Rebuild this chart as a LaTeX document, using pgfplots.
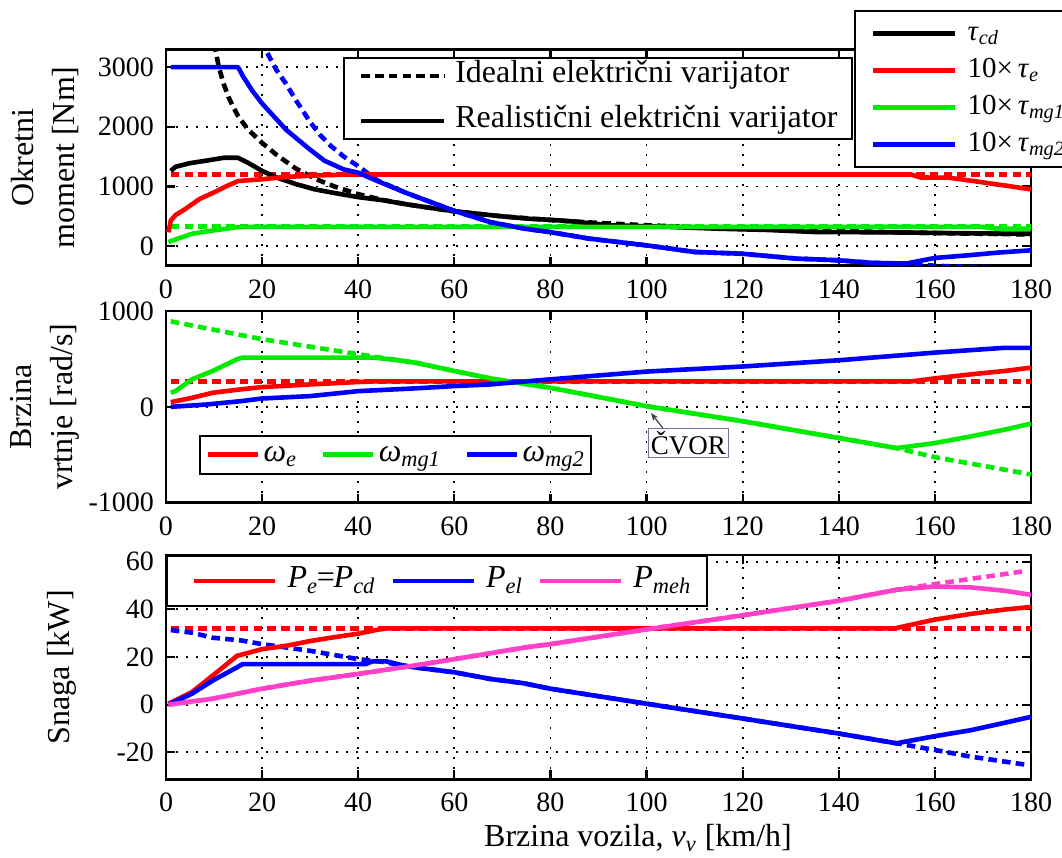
\documentclass[border=0pt]{standalone}
\usepackage{fontspec}
\setmainfont{Liberation Serif}
\usepackage{pgfplots}
\pgfplotsset{compat=1.18}
\usetikzlibrary{arrows.meta}

\definecolor{cred}{RGB}{255,0,0}
\definecolor{cgreen}{RGB}{0,235,0}
\definecolor{cblue}{RGB}{0,0,255}
\definecolor{cpink}{RGB}{255,64,200}
\definecolor{cbox}{RGB}{110,120,150}

\newcommand\lfont{\fontsize{16}{16}\selectfont}
\newcommand\tfont{\fontsize{14}{14}\selectfont}
\newcommand\ssub[1]{\textsubscript{\textit{#1}}}
\tikzset{dsh/.style={dash pattern=on 4.3pt off 2.6pt}}

\pgfplotsset{
  panel/.style={
    scale only axis, width=432.5pt, anchor=south west,
    xmin=0, xmax=180, xtick={0,20,...,180},
    grid=major,
    major grid style={black, line width=0.9pt, dash pattern=on 0.9pt off 4.1pt},
    axis line style={black, line width=1.4pt},
    every tick/.style={black, line width=1.1pt},
    major tick length=4.5pt, tick align=inside,
    tick label style={font=\tfont},
    xticklabel style={yshift=-3.5pt},
    yticklabel style={xshift=-2.5pt},
    /pgf/number format/assume math mode=true,
    /pgf/number format/1000 sep={},
    scaled ticks=false,
    label style={font=\lfont},
    every axis plot/.append style={line width=2.3pt, line join=round},
  },
  lgd/.style={draw=black, line width=1pt, fill=white, font=\lfont,
    nodes={inner sep=0pt, text height=11pt, text depth=4pt},
    cells={anchor=west}},
}

\begin{document}
\begin{tikzpicture}
\useasboundingbox (0,0) rectangle (531pt,429pt);

% ---------- torque ----------
\begin{axis}[panel, at={(83pt,296.15pt)}, height=108.2pt,
  ymin=-330, ymax=3300, ytick={0,1000,2000,3000},
  ylabel={Okretni\\moment [Nm]},
  ylabel style={align=center, font=\fontsize{16}{20.5}\selectfont,
    at={(axis description cs:-0.14,0.5)}, anchor=center},
  legend style={lgd, font=\fontsize{14.5}{14.5}\selectfont,
    at={(axis description cs:0.7954,1.1816)}, anchor=north west,
    inner xsep=8pt, inner ysep=3.7pt, row sep=3.5pt},
  legend image code/.code={\draw[line width=2.3pt,#1] (0pt,0pt) -- (41pt,0pt); \path (46pt,0pt);},
]
\addplot[black, dsh, forget plot] coordinates {
 (10,3400) (11,3000) (12,2720) (13,2500) (14,2330) (15,2180) (17,1960) (20,1730)
 (23,1530) (27,1300) (31,1130) (35,1000) (40,870) (45,775) (50,700) (60,580)
 (70,497) (80,435) (90,387) (100,348) (110,316) (120,290) (140,249) (160,218) (180,193)};
\addplot[cred, dsh, forget plot] coordinates {(1,1200) (180,1200)};
\addplot[cgreen, dsh, forget plot] coordinates {(1,325) (180,325)};
\addplot[cblue, dsh, forget plot] coordinates {
 (20,3450) (21,3250) (23,2950) (25,2720) (27,2450) (30,2080) (32,1870) (34.3,1680)
 (37,1500) (40,1340) (44,1100) (50,890) (55,740) (60,590) (67.5,400) (74.7,290)
 (80,233) (88,125) (100,11) (110,-100) (120,-130) (131,-210) (140,-240) (147,-283)
 (154,-300) (160,-330) (166,-350) (180,-400)};

\addplot[black] coordinates {
 (1,1260) (2,1330) (5,1390) (9,1440) (12,1480) (15,1480) (17,1400) (20,1260)
 (23,1150) (27,1040) (31,950) (35,890) (40,820) (45,770) (50,700) (55,640)
 (60,585) (65,540) (70,497) (76,455) (80,440) (85,410) (92,350) (100,330)
 (105,320) (115,290) (125,270) (135,235) (150,230) (165,215) (180,205)};
\addlegendentry{\textit{τ}\ssub{cd}}
\addplot[cred] coordinates {
 (0.5,230) (1,430) (2,520) (4,620) (7,790) (10,900) (12.6,1005) (15,1090) (20,1120)
 (25,1160) (32,1185) (38,1200) (155,1200) (157,1150) (163,1145) (168,1090)
 (175,1010) (180,950)};
\addlegendentry{10×\,\textit{τ}\ssub{e}}
\addplot[cgreen] coordinates {
 (0.5,66) (2.5,125) (5.4,205) (9.7,260) (14.8,315) (16,320) (170,320) (172,295) (180,290)};
\addlegendentry{10×\,\textit{τ}\ssub{mg1}}
\addplot[cblue] coordinates {
 (1,3000) (15,3000) (16,2850) (18,2600) (20,2390) (25,1950) (30,1615) (33,1430)
 (37,1285) (40,1230) (44,1090) (50,890) (55,740) (60,590) (67.5,400) (74.7,290)
 (80,233) (88,125) (100,11) (110,-100) (120,-130) (131,-210) (140,-240) (147,-283)
 (154,-294) (160,-200) (167,-155) (173,-111) (180,-72)};
\addlegendentry{10×\,\textit{τ}\ssub{mg2}}
\end{axis}

\begin{axis}[at={(83pt,296.15pt)}, anchor=south west, scale only axis,
  width=432.5pt, height=108.2pt, hide axis, xmin=0, xmax=1, ymin=0, ymax=1,
  legend style={lgd, at={(axis description cs:0.2046,0.9644)}, anchor=north west,
    inner xsep=7.5pt, inner ysep=1.5pt, row sep=7.5pt},
  legend image code/.code={\draw[line width=2.3pt,#1] (0pt,0pt) -- (41.5pt,0pt); \path (46.5pt,0pt);},
]
\addlegendimage{black, dsh}
\addlegendentry{Idealni električni varijator}
\addlegendimage{black}
\addlegendentry{Realistični električni varijator}
\end{axis}

% ---------- speed ----------
\begin{axis}[panel, at={(83pt,177.65pt)}, height=95.85pt,
  ymin=-1000, ymax=1000, ytick={-1000,0,1000},
  ylabel={Brzina\\vrtnje [rad/s]},
  ylabel style={align=center, font=\fontsize{16}{20.5}\selectfont,
    at={(axis description cs:-0.14,0.5)}, anchor=center},
  legend columns=3,
  legend style={lgd, at={(axis description cs:0.0382,0.3552)}, anchor=north west,
    inner xsep=3pt, inner ysep=2pt,
    /tikz/every even column/.append style={column sep=12pt}},
  legend image code/.code={\draw[line width=2.3pt,#1] (0pt,0pt) -- (25pt,0pt); \path (26.5pt,0pt);},
]
\addplot[cgreen, dsh, forget plot] coordinates {
 (1,892) (20,706) (40,549) (47,495) (52,460) (60,374) (67.5,297) (73,252) (80,199)
 (100,7) (120,-150) (140,-325) (152,-430) (160,-525) (170,-615) (180,-705)};
\addplot[cred, dsh, forget plot] coordinates {(1,265) (180,265)};

\addplot[cred] coordinates {
 (1,49) (5.4,94) (9.7,147) (15.5,182) (20,206) (30,234) (40,259) (43,265)
 (155,265) (160,297) (167.5,339) (174.5,374) (180,409)};
\addlegendentry{\textit{ω}\ssub{e}}
\addplot[cgreen] coordinates {
 (1,147) (2,165) (5.4,287) (9.7,374) (14.8,497) (16,514) (43,514) (47,495) (52,460)
 (60,374) (67.5,297) (73,252) (80,199) (100,7) (120,-150) (140,-325) (152,-430)
 (160,-378) (167.5,-308) (174.5,-238) (180,-175)};
\addlegendentry{\textit{ω}\ssub{mg1}}
\addplot[cblue] coordinates {
 (1,0) (8.3,24) (15.5,59) (20,87) (30,112) (40,164) (51.6,192) (60,217) (67.5,234)
 (73.3,259) (80,287) (100,368) (120,421) (140,486) (160,566) (174.5,616) (180,616)};
\addlegendentry{\textit{ω}\ssub{mg2}}

\node[draw=cbox, line width=0.6pt, inner xsep=1.2pt, inner ysep=1.5pt,
  font=\fontsize{13.5}{13.5}\selectfont] at (axis cs:108.7,-377) {ČVOR};
\draw[black!75, line width=0.6pt, -{Stealth[length=4pt,width=3pt]}]
  (axis cs:103.4,-221) -- (axis cs:100.9,-64);
\end{axis}

% ---------- power ----------
\begin{axis}[panel, at={(83pt,39.35pt)}, height=112.15pt,
  ymin=-31.3, ymax=62.8, ytick={-20,0,20,40,60},
  ylabel={Snaga [kW]},
  ylabel style={at={(axis description cs:-0.12,0.5)}, anchor=center},
  xlabel={Brzina vozila, \textit{v}\ssub{v} [km/h]},
  xlabel style={at={(axis description cs:0.5457,-0.262)}, anchor=center},
  legend columns=3,
  legend style={lgd, at={(axis description cs:0,1)}, anchor=north west,
    inner xsep=8pt, inner ysep=5pt,
    /tikz/every even column/.append style={column sep=3pt}},
  legend image code/.code={\path (-4.5pt,0pt); \draw[line width=2.3pt,#1] (0pt,0pt) -- (40.5pt,0pt); \path (45.5pt,0pt);},
]
\addplot[cred, dsh, forget plot] coordinates {(1,32) (180,32)};
\addplot[cblue, dsh, forget plot] coordinates {
 (1,31.3) (5.4,30.2) (9.7,28.1) (15.5,27) (20,25.4) (30,22.6) (40,19.1) (44.4,18.2)
 (49.5,16.4) (51.6,15.7) (60,13.6) (67.5,10.8) (74.4,9) (80,6.7) (100,0.4)
 (120,-5.8) (140,-12.1) (152,-16.2) (160,-19) (167.5,-21.8) (179,-25.2)};
\addplot[cpink, dsh, forget plot] coordinates {
 (0.5,0) (9.7,2.5) (20,6.7) (30,10.1) (40,12.9) (51.6,16.4) (60,19.1) (74.7,24)
 (80,25.4) (100,31.6) (120,37.5) (140,43.6) (152,48.2) (160,50.6) (167.5,52.8) (179,56.1)};

\addplot[cred] coordinates {
 (0.5,0.4) (5.4,5.3) (9.7,12.2) (14.8,20.5) (20,23.3) (25,24.7) (30,26.7) (34.3,28.1)
 (40,29.8) (44.4,31.6) (46,32) (151.6,32) (160,35.7) (167.5,38.1) (174.5,39.9) (180,41)};
\addlegendentry{\textit{P}\ssub{e}\kern-0.6pt=\kern-0.6pt\textit{P}\ssub{cd}}
\addplot[cblue] coordinates {
 (0.5,0) (5.4,4.6) (9.7,10.1) (14.8,15.7) (15.9,17) (41.5,17) (43,18.2) (45.8,18.2)
 (49.5,16.4) (51.6,15.7) (60,13.6) (67.5,10.8) (74.4,9) (80,6.7) (100,0.4) (120,-5.8)
 (140,-12.1) (152,-16.2) (160,-13.2) (167.5,-10.7) (174.5,-7.6) (180,-5.1)};
\addlegendentry{\textit{P}\ssub{el}}
\addplot[cpink] coordinates {
 (0.5,0) (9.7,2.5) (20,6.7) (30,10.1) (40,12.9) (51.6,16.4) (60,19.1) (74.7,24)
 (80,25.4) (100,31.6) (120,37.5) (140,43.6) (152,48.2) (160,49.6) (167.5,49.2)
 (174.5,47.8) (180,46.1)};
\addlegendentry{\textit{P}\ssub{meh}}
\end{axis}
\end{tikzpicture}
\end{document}
